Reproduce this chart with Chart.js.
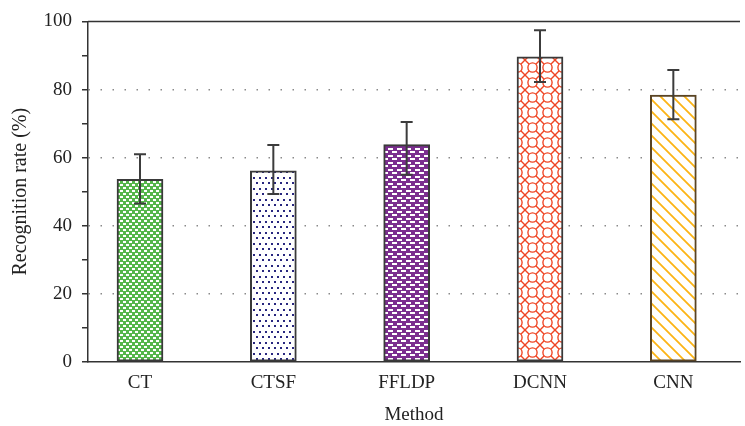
<!DOCTYPE html>
<html>
<head>
<meta charset="utf-8">
<script src="https://cdn.jsdelivr.net/npm/chart.js@4/dist/chart.umd.min.js"></script>
<style>
  html, body { margin: 0; padding: 0; background: #fff; }
  #wrap { width: 745px; height: 426px; }
</style>
</head>
<body>
<div id="wrap"><canvas id="c"></canvas></div>
<script>
const methods = ['CT', 'CTSF', 'FFLDP', 'DCNN', 'CNN'];
const rates   = [53.6, 56.1, 63.8, 89.6, 78.4];
const errLow  = [46.5, 49.3, 55.0, 82.2, 71.3];
const errHigh = [61.0, 63.7, 70.5, 97.4, 85.7];
const yTicks  = [0, 10, 20, 30, 40, 50, 60, 70, 80, 90, 100];

const FONT = '"Liberation Serif", "DejaVu Serif", serif';

// small tiles for the bar fills
function tile(w, h, draw) {
  const cv = document.createElement('canvas');
  cv.width = w; cv.height = h;
  const g = cv.getContext('2d');
  draw(g, w, h);
  return document.getElementById('c').getContext('2d').createPattern(cv, 'repeat');
}

const fills = [
  tile(6, 6, (g) => {            // green checker
    g.fillStyle = '#fff'; g.fillRect(0, 0, 6, 6);
    g.fillStyle = '#55b64a';
    g.fillRect(0, 0, 3, 3); g.fillRect(3, 3, 3, 3);
    g.fillRect(3, 0, 3, 1); g.fillRect(0, 3, 3, 1);
  }),
  tile(6, 11, (g) => {           // navy dots
    g.fillStyle = '#fff'; g.fillRect(0, 0, 6, 11);
    g.fillStyle = '#28267f';
    g.fillRect(1, 1, 2, 2); g.fillRect(4, 6, 2, 2);
  }),
  tile(9, 7, (g) => {            // purple bricks
    g.fillStyle = '#7b2e8f'; g.fillRect(0, 0, 9, 7);
    g.fillStyle = '#fff';
    g.fillRect(1, 1, 5, 2); g.fillRect(5, 4, 4, 2); g.fillRect(0, 4, 1, 2);
  }),
  tile(15, 15, (g) => {          // red lattice
    g.fillStyle = '#fff'; g.fillRect(0, 0, 15, 15);
    g.strokeStyle = '#ef4524'; g.lineWidth = 1.4;
    g.beginPath(); g.arc(7.5, 7.5, 4.6, 0, Math.PI * 2); g.stroke();
    g.beginPath();
    g.moveTo(0, 0); g.lineTo(4.2, 4.2);
    g.moveTo(15, 0); g.lineTo(10.8, 4.2);
    g.moveTo(0, 15); g.lineTo(4.2, 10.8);
    g.moveTo(15, 15); g.lineTo(10.8, 10.8);
    g.stroke();
  }),
  tile(12, 12, (g) => {          // orange stripes
    g.fillStyle = '#fff'; g.fillRect(0, 0, 12, 12);
    g.strokeStyle = '#fcb415'; g.lineWidth = 1.8;
    g.beginPath();
    g.moveTo(-2, -2); g.lineTo(14, 14);
    g.moveTo(-2, 10); g.lineTo(2, 14);
    g.moveTo(10, -2); g.lineTo(14, 2);
    g.stroke();
  })
];
const borders = ['#3a3a3a', '#3a3a3a', '#3a3a3a', '#3a3a3a', '#5a4424'];

// error bars + top frame line
const errorBars = {
  id: 'errorBars',
  afterDatasetsDraw(chart) {
    const ctx = chart.ctx;
    const y = chart.scales.y;
    const area = chart.chartArea;
    ctx.save();
    ctx.strokeStyle = '#333';
    ctx.lineWidth = 1.5;
    ctx.beginPath();
    ctx.moveTo(area.left, area.top);
    ctx.lineTo(area.right, area.top);
    ctx.stroke();
    ctx.strokeStyle = '#3c3c3c';
    ctx.lineWidth = 2;
    chart.getDatasetMeta(0).data.forEach((bar, i) => {
      const lo = y.getPixelForValue(errLow[i]);
      const hi = y.getPixelForValue(errHigh[i]);
      ctx.beginPath();
      ctx.moveTo(bar.x, lo); ctx.lineTo(bar.x, hi);
      ctx.moveTo(bar.x - 6, lo); ctx.lineTo(bar.x + 6, lo);
      ctx.moveTo(bar.x - 6, hi); ctx.lineTo(bar.x + 6, hi);
      ctx.stroke();
    });
    ctx.restore();
  }
};

new Chart(document.getElementById('c'), {
  type: 'bar',
  plugins: [errorBars],
  data: {
    datasets: [{
      data: methods.map((m, i) => ({ x: i, y: rates[i] })),
      backgroundColor: fills,
      borderColor: borders,
      borderWidth: 2,
      borderSkipped: false,
      barThickness: 46
    }]
  },
  options: {
    responsive: true,
    maintainAspectRatio: false,
    animation: false,
    layout: { padding: { left: 0, top: 19, right: 5, bottom: 0 } },
    plugins: { legend: { display: false }, tooltip: { enabled: false } },
    scales: {
      x: {
        type: 'linear',
        offset: false,
        min: -0.39,
        max: 4.5,
        afterBuildTicks: (axis) => { axis.ticks = methods.map((m, i) => ({ value: i })); },
        afterFit: (axis) => { axis.height = 64; },
        grid: { display: false, offset: false },
        border: { display: true, color: '#333', width: 1.5 },
        ticks: {
          callback: (v) => methods[v],
          color: '#222',
          font: { family: FONT, size: 19 },
          padding: 2,
          autoSkip: false,
          maxRotation: 0
        },
        title: {
          display: true,
          text: 'Method',
          color: '#222',
          font: { family: FONT, size: 19 },
          padding: { top: 0, bottom: 0 }
        }
      },
      y: {
        min: 0,
        max: 100,
        afterBuildTicks: (axis) => { axis.ticks = yTicks.map((v) => ({ value: v })); },
        afterFit: (axis) => { axis.width = 88; },
        grid: {
          color: (c) => (c.tick && c.tick.value % 20 === 0 && c.tick.value > 0 && c.tick.value < 100) ? '#8a8a8a' : 'rgba(0,0,0,0)',
          lineWidth: 1.5,
          tickColor: '#333',
          tickLength: 6,
          tickWidth: 1.5
        },
        border: { display: true, color: '#333', width: 1.5, dash: [1.5, 10.5] },
        ticks: {
          callback: (v) => (v % 20 === 0 ? v : ''),
          color: '#222',
          font: { family: FONT, size: 19 },
          padding: 10,
          autoSkip: false
        },
        title: {
          display: true,
          text: 'Recognition rate (%)',
          color: '#222',
          font: { family: FONT, size: 20 },
          padding: { top: 9, bottom: 0 }
        }
      }
    }
  }
});
</script>
</body>
</html>
